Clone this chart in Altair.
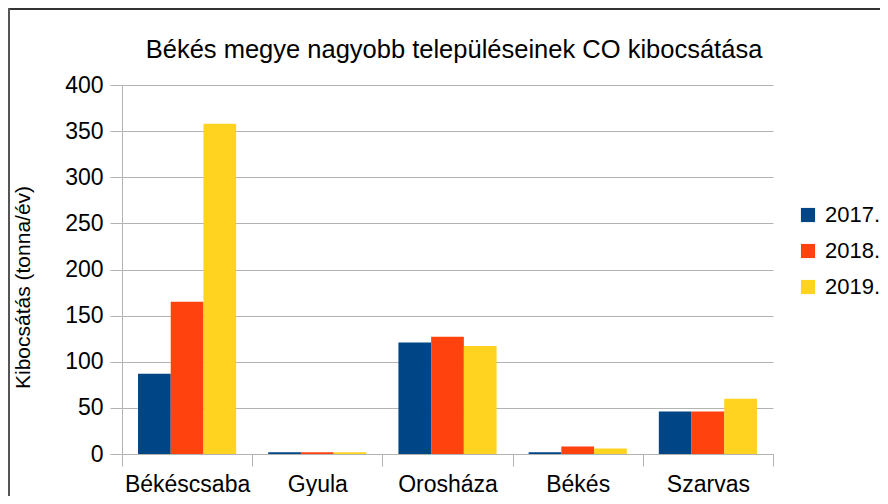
import altair as alt
import pandas as pd

cities = ["Békéscsaba", "Gyula", "Orosháza", "Békés", "Szarvas"]
years = ["2017.", "2018.", "2019."]
v2017 = [87, 2, 121, 2, 46]
v2018 = [165, 2, 127, 8, 46]
v2019 = [358, 2, 117, 6, 60]
colors = ["#004586", "#ff420e", "#ffd320"]
y_ticks = [0, 50, 100, 150, 200, 250, 300, 350, 400]
title_text = "Békés megye nagyobb településeinek CO kibocsátása"
y_title = "Kibocsátás (tonna/év)"

rows = []
for yr, vals in zip(years, [v2017, v2018, v2019]):
    for c, v in zip(cities, vals):
        rows.append({"city": c, "year": yr, "value": v})
df = pd.DataFrame(rows)

FONT = "Liberation Sans"
GRID = "#b3b3b3"

bars = alt.Chart(df).mark_bar(strokeWidth=0).encode(
    x=alt.X(
        "city:N", sort=cities,
        scale=alt.Scale(paddingInner=0, paddingOuter=0),
        axis=alt.Axis(title=None, labelAngle=0, tickBand="extent", labelFontSize=23,
                      labelColor="#000", labelFont=FONT, tickColor=GRID, tickSize=12,
                      domainColor=GRID, labelPadding=7, grid=False),
    ),
    xOffset=alt.XOffset("year:N", sort=years,
                        scale=alt.Scale(paddingInner=0, paddingOuter=0.49)),
    y=alt.Y(
        "value:Q", scale=alt.Scale(domain=[0, 400]),
        axis=alt.Axis(values=y_ticks, title=y_title, titleFont=FONT, titleFontSize=21,
                      titleFontWeight="normal", titleColor="#000", titleAngle=-90,
                      titleX=-99, titleY=202, titleAlign="center", titleBaseline="middle",
                      labelFontSize=23, labelFont=FONT, labelColor="#000",
                      labelPadding=7, tickSize=12, tickColor=GRID, domainColor=GRID,
                      gridColor=GRID),
    ),
    color=alt.Color(
        "year:N", sort=years,
        scale=alt.Scale(domain=years, range=colors),
        legend=alt.Legend(title=None, orient="none", legendX=675, legendY=119,
                          labelFont=FONT, labelFontSize=22, labelColor="#000",
                          symbolType="square", symbolSize=200, symbolStrokeWidth=0,
                          symbolOpacity=1, rowPadding=14, labelOffset=6),
    ),
)

frame_df = pd.DataFrame({"k": [0]})
top_line = alt.Chart(frame_df).mark_rule(color="#333333", strokeWidth=2).encode(
    x=alt.value(-114), x2=alt.value(758), y=alt.value(-76)
)
left_line = alt.Chart(frame_df).mark_rule(color="#555555", strokeWidth=2).encode(
    x=alt.value(-113), y=alt.value(-77), y2=alt.value(411)
)
title_mark = alt.Chart(frame_df).mark_text(
    text=title_text, font=FONT, fontSize=25.5, color="#000",
    align="center", baseline="alphabetic"
).encode(x=alt.value(332), y=alt.value(-27))

chart = alt.layer(bars, top_line, left_line, title_mark).properties(
    width=651, height=369,
    autosize=alt.AutoSizeParams(type="none"),
    padding={"left": 114, "top": 77, "right": 107, "bottom": 42},
    background="white",
).configure_view(stroke=None)

chart.save("out.html", embed_options={"renderer": "svg", "actions": False})
